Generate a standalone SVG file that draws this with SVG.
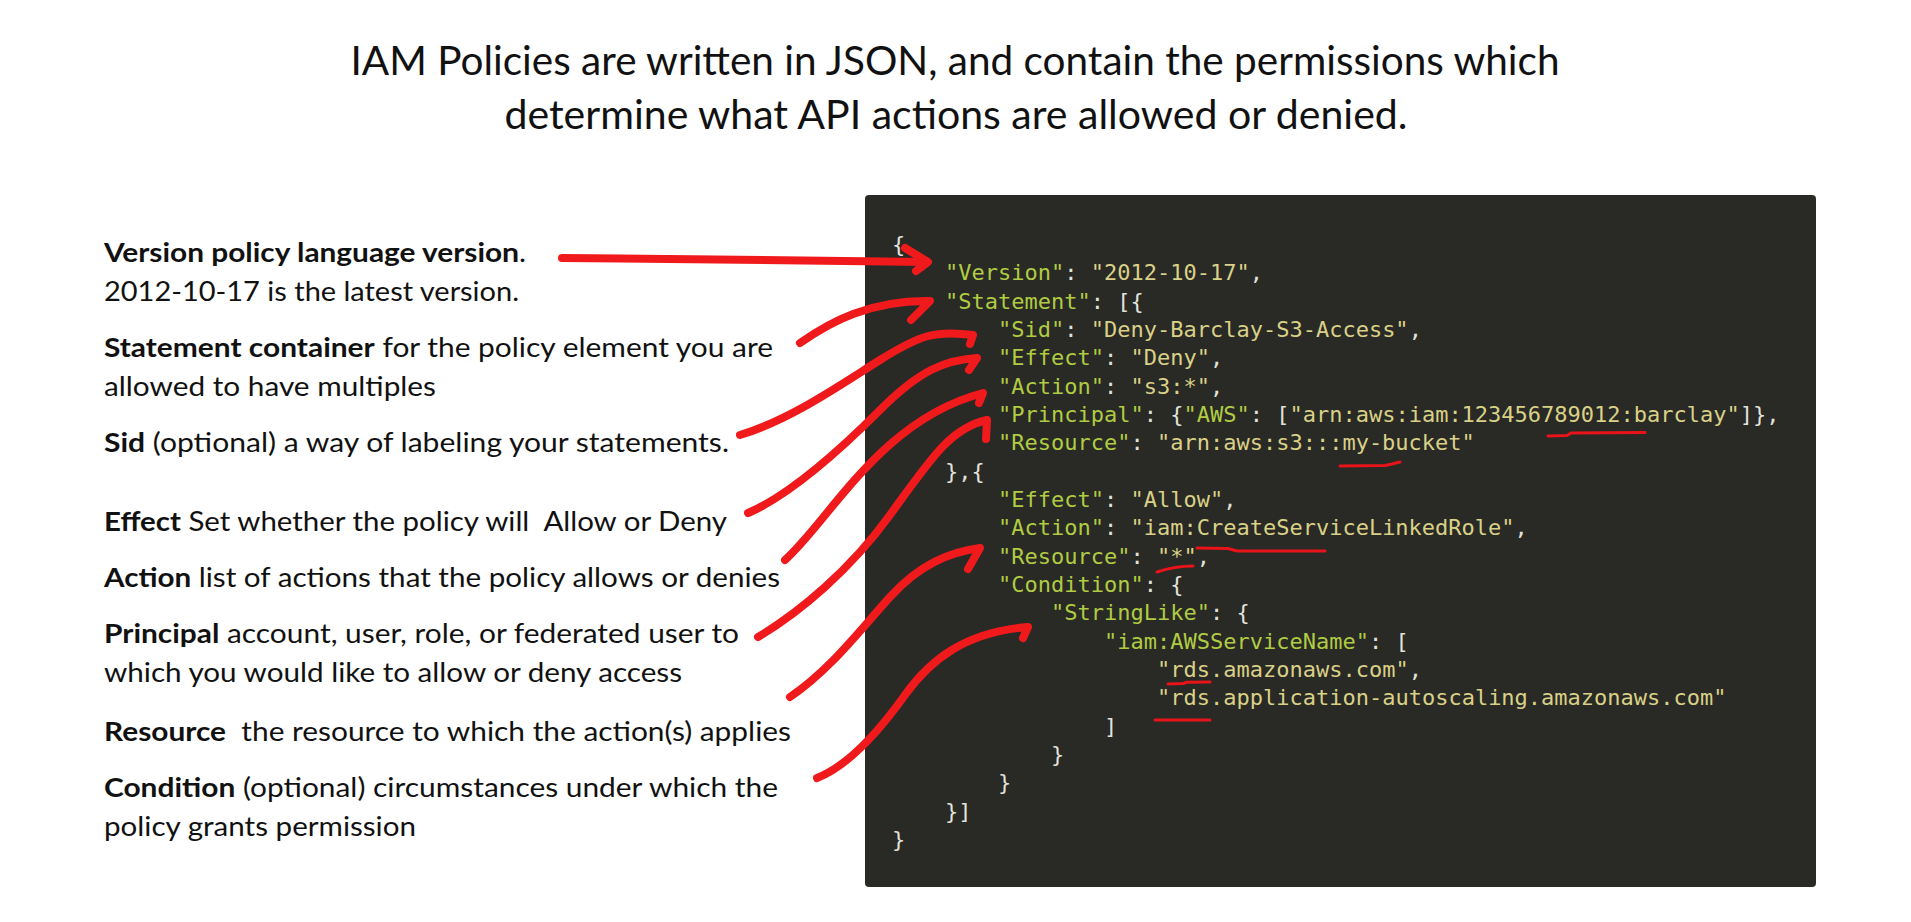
<svg xmlns="http://www.w3.org/2000/svg" width="1911" height="922" viewBox="0 0 1911 922">
<style>
.title{font-family:Lato,"Liberation Sans",sans-serif;font-size:40px;fill:#111}
.lbl{font-family:Lato,"Liberation Sans",sans-serif;font-size:27px;fill:#111}
.b{font-weight:bold}
.code{font-family:"DejaVu Sans Mono","Liberation Mono",monospace;font-size:22px;fill:#e2e2dc}
.k{fill:#b0cc42}
.v{fill:#d9d187}
.arrow{fill:none;stroke:#f01a1c;stroke-width:8;stroke-linecap:round;stroke-linejoin:round}
.ul{fill:none;stroke:#e8141a;stroke-width:3;stroke-linecap:round;stroke-linejoin:round}
</style>
<rect width="1911" height="922" fill="#ffffff"/>
<g id="title">
<text class="title" x="955" y="75" text-anchor="middle" textLength="1209" lengthAdjust="spacingAndGlyphs">IAM Policies are written in JSON, and contain the permissions which</text>
<text class="title" x="956" y="129" text-anchor="middle" textLength="903" lengthAdjust="spacingAndGlyphs">determine what API actions are allowed or denied.</text>
</g>
<g id="label-version">
<text class="lbl" x="104" y="262" textLength="422" lengthAdjust="spacingAndGlyphs"><tspan class="b">Version policy language version</tspan>.</text>
<text class="lbl" x="104" y="301" textLength="415" lengthAdjust="spacingAndGlyphs">2012-10-17 is the latest version.</text>
</g>
<g id="label-statement">
<text class="lbl" x="104" y="357" textLength="669" lengthAdjust="spacingAndGlyphs"><tspan class="b">Statement container</tspan> for the policy element you are</text>
<text class="lbl" x="104" y="396" textLength="332" lengthAdjust="spacingAndGlyphs">allowed to have multiples</text>
</g>
<g id="label-sid">
<text class="lbl" x="104" y="452" textLength="625" lengthAdjust="spacingAndGlyphs"><tspan class="b">Sid</tspan> (optional) a way of labeling your statements.</text>
</g>
<g id="label-effect">
<text class="lbl" x="104" y="531" xml:space="preserve" textLength="623" lengthAdjust="spacingAndGlyphs"><tspan class="b">Effect</tspan> Set whether the policy will  Allow or Deny</text>
</g>
<g id="label-action">
<text class="lbl" x="104" y="587" textLength="676" lengthAdjust="spacingAndGlyphs"><tspan class="b">Action</tspan> list of actions that the policy allows or denies</text>
</g>
<g id="label-principal">
<text class="lbl" x="104" y="643" textLength="635" lengthAdjust="spacingAndGlyphs"><tspan class="b">Principal</tspan> account, user, role, or federated user to</text>
<text class="lbl" x="104" y="682" textLength="578" lengthAdjust="spacingAndGlyphs">which you would like to allow or deny access</text>
</g>
<g id="label-resource">
<text class="lbl" x="104" y="741" xml:space="preserve" textLength="687" lengthAdjust="spacingAndGlyphs"><tspan class="b">Resource</tspan>  the resource to which the action(s) applies</text>
</g>
<g id="label-condition">
<text class="lbl" x="104" y="797" textLength="674" lengthAdjust="spacingAndGlyphs"><tspan class="b">Condition</tspan> (optional) circumstances under which the</text>
<text class="lbl" x="104" y="836" textLength="312" lengthAdjust="spacingAndGlyphs">policy grants permission</text>
</g>
<g id="policy-json">
<rect x="865" y="195" width="951" height="692" rx="4" fill="#292925"/>
<g class="code" xml:space="preserve">
<text x="892" y="252">{</text>
<text x="945" y="280.3"><tspan class="k">"Version"</tspan>: <tspan class="v">"2012-10-17"</tspan>,</text>
<text x="945" y="308.7"><tspan class="k">"Statement"</tspan>: [{</text>
<text x="998" y="337"><tspan class="k">"Sid"</tspan>: <tspan class="v">"Deny-Barclay-S3-Access"</tspan>,</text>
<text x="998" y="365.3"><tspan class="k">"Effect"</tspan>: <tspan class="v">"Deny"</tspan>,</text>
<text x="998" y="393.7"><tspan class="k">"Action"</tspan>: <tspan class="v">"s3:*"</tspan>,</text>
<text x="998" y="422"><tspan class="k">"Principal"</tspan>: {<tspan class="k">"AWS"</tspan>: [<tspan class="v">"arn:aws:iam:123456789012:barclay"</tspan>]},</text>
<text x="998" y="450.3"><tspan class="k">"Resource"</tspan>: <tspan class="v">"arn:aws:s3:::my-bucket"</tspan></text>
<text x="945" y="478.6">},{</text>
<text x="998" y="507"><tspan class="k">"Effect"</tspan>: <tspan class="v">"Allow"</tspan>,</text>
<text x="998" y="535.3"><tspan class="k">"Action"</tspan>: <tspan class="v">"iam:CreateServiceLinkedRole"</tspan>,</text>
<text x="998" y="563.6"><tspan class="k">"Resource"</tspan>: <tspan class="v">"*"</tspan>,</text>
<text x="998" y="592"><tspan class="k">"Condition"</tspan>: {</text>
<text x="1051" y="620.3"><tspan class="k">"StringLike"</tspan>: {</text>
<text x="1104" y="648.6"><tspan class="k">"iam:AWSServiceName"</tspan>: [</text>
<text x="1157" y="677"><tspan class="v">"rds.amazonaws.com"</tspan>,</text>
<text x="1157" y="705.3"><tspan class="v">"rds.application-autoscaling.amazonaws.com"</tspan></text>
<text x="1104" y="733.6">]</text>
<text x="1051" y="762">}</text>
<text x="998" y="790.3">}</text>
<text x="945" y="818.6">}]</text>
<text x="892" y="847">}</text>
</g>
</g>
<g id="highlights">
<path class="ul" d="M1548,436 L1567,435.5 L1571,433 L1645,432.5"/>
<path class="ul" d="M1340,466 L1385,465.5 L1392,464 L1400,462"/>
<path class="ul" d="M1197,548 L1228,548.5 L1237,551 L1325,551"/>
<path class="ul" d="M1157,572 Q1175,566 1193,566"/>
<path class="ul" d="M1168,684 L1183,683.5 L1187,682.3 L1210,682"/>
<path class="ul" d="M1155,720 L1210,720"/>
</g>
<g id="connectors">
<path class="arrow" d="M562,258 C700,259 850,261 927,262"/>
<path class="arrow" d="M905,248 L928,262 L916,271"/>
<path class="arrow" d="M800,343 C830,322 870,300 930,301 L911,320"/>
<path class="arrow" d="M740,435 C790,420 840,385 880,360 S935,330 973,335 L970,344"/>
<path class="arrow" d="M748,513 C790,495 840,450 880,410 S945,360 977,358 L969,370"/>
<path class="arrow" d="M785,560 C830,520 880,420 983,393 L979,403"/>
<path class="arrow" d="M758,637 C800,612 850,570 890,515 S950,428 987,420 L986,439"/>
<path class="arrow" d="M790,697 C830,670 860,630 890,597 S950,552 980,548 L968,569"/>
<path class="arrow" d="M817,778 C850,765 880,730 905,695 S965,632 1028,627 L1023,638"/>
</g>
</svg>
